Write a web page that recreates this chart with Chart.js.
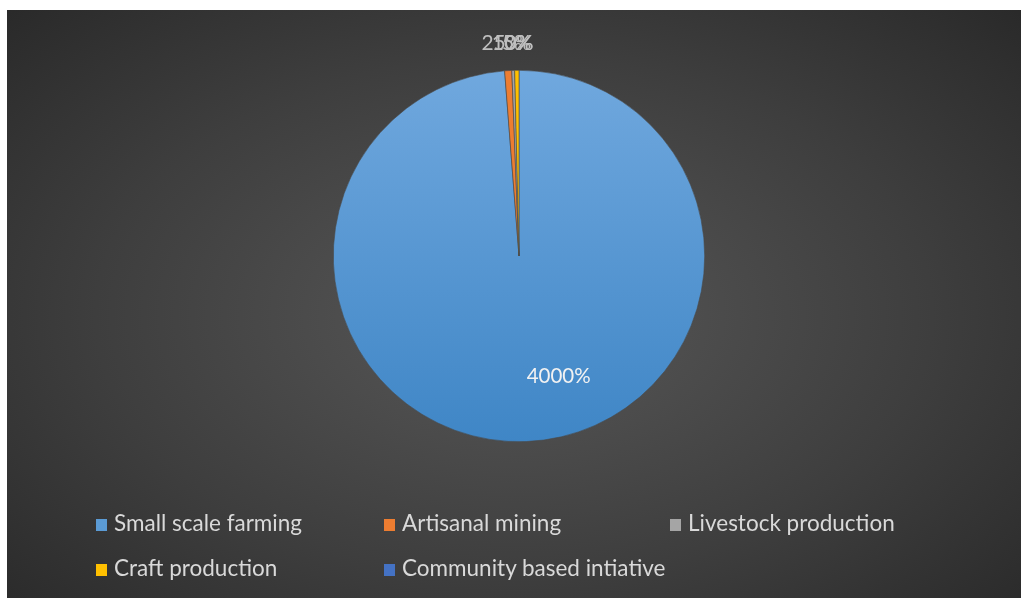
<!doctype html>
<html lang="en">
  <head>
    <meta charset="utf-8">
    <title>Income sources</title>
    <style>
      body { margin: 0; background: #fff; }
      .chartCard {
        position: absolute; left: 7px; top: 10px; width: 1014px; height: 588px;
        background: radial-gradient(ellipse 75% 80% at 50% 52%, #585858 0%, #3e3e3e 55%, #262626 100%);
        font-family: Lato, "Open Sans", sans-serif;
      }
      .chartBox { position: absolute; left: 0; top: 0; width: 1014px; height: 588px; }
      .legend { position: absolute; left: 0; top: 0; color: #d9d9d9; font-size: 22.5px; }
      .legend span { position: absolute; white-space: nowrap; line-height: 26px; }
      .legend i { display: inline-block; width: 11px; height: 12px; margin-right: 7px; vertical-align: 0px; }
    </style>
  </head>
  <body>
    <div class="chartCard">
      <div class="chartBox">
        <canvas id="myChart"></canvas>
      </div>
      <div class="legend" id="legend"></div>
    </div>
    <script src="https://cdn.jsdelivr.net/npm/chart.js"></script>
    <script>
      const categories = ['Small scale farming', 'Artisanal mining', 'Livestock production', 'Craft production', 'Community based intiative'];
      const values = [4000, 25, 10, 15, 0];
      const valueLabels = ['4000%', '25%', '10%', '5%', '0%'];
      const colors = ['#5b9bd5', '#ed7d31', '#a5a5a5', '#ffc000', '#4472c4'];

      // legend laid out like the office chart (3 columns, 2 rows)
      const legendPos = [[89, 500], [377, 500], [663, 500], [89, 545], [377, 545]];
      const legend = document.getElementById('legend');
      categories.forEach((c, i) => {
        const s = document.createElement('span');
        s.style.left = legendPos[i][0] + 'px';
        s.style.top = legendPos[i][1] + 'px';
        s.innerHTML = '<i style="background:' + colors[i] + '"></i>' + c;
        legend.appendChild(s);
      });

      const labelPlugin = {
        id: 'sliceLabels',
        afterDatasetsDraw(chart) {
          const ctx = chart.ctx;
          const meta = chart.getDatasetMeta(0);
          ctx.save();
          ctx.textBaseline = 'middle';
          meta.data.forEach((arc, i) => {
            const mid = (arc.startAngle + arc.endAngle) / 2;
            const span = arc.endAngle - arc.startAngle;
            let r, align;
            if (span > 1) {
              r = arc.outerRadius * 0.65;
              align = 'center';
              ctx.fillStyle = '#f2f2f2';
            } else {
              r = arc.outerRadius + 27;
              align = i === 1 ? 'right' : 'center';
              ctx.fillStyle = '#bfbfbf';
            }
            ctx.font = (span > 1 ? '20.5px' : '21px') + ' Lato, "Open Sans", sans-serif';
            ctx.textAlign = align;
            let x = arc.x + Math.cos(mid) * r;
            const y = arc.y + Math.sin(mid) * r;
            if (span > 1) x += 35;
            if (align === 'right') x += 16;
            ctx.fillText(valueLabels[i], x, y);
          });
          ctx.restore();
        }
      };

      const data = {
        labels: categories,
        datasets: [{
          data: values,
          backgroundColor: (c) => {
            if (c.dataIndex !== 0) return colors[c.dataIndex];
            const a = c.chart.chartArea;
            if (!a) return colors[0];
            const g = c.chart.ctx.createLinearGradient(0, a.top, 0, a.bottom);
            g.addColorStop(0, '#70a8de');
            g.addColorStop(1, '#3f86c6');
            return g;
          },
          borderColor: '#4a4a4a',
          borderWidth: 0.6
        }]
      };

      const config = {
        type: 'pie',
        data,
        plugins: [labelPlugin],
        options: {
          responsive: false,
          animation: false,
          layout: { padding: { top: 60, bottom: 156, left: 10, right: 0 } },
          plugins: {
            legend: { display: false },
            tooltip: { enabled: false }
          }
        }
      };

      const cv = document.getElementById('myChart');
      cv.width = 1014; cv.height = 588;
      const myChart = new Chart(cv, config);
    </script>
  </body>
</html>
